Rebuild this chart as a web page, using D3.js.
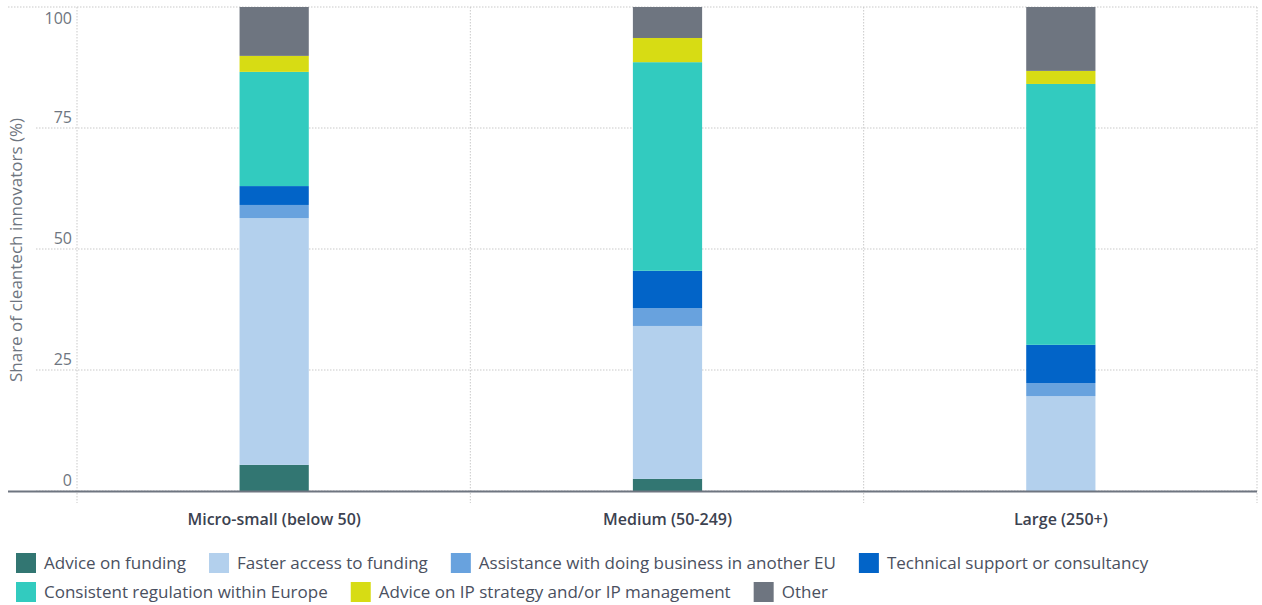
<!DOCTYPE html>
<html>
<head>
<meta charset="utf-8">
<script src="https://cdn.jsdelivr.net/npm/d3@7"></script>
<style>
  html, body { margin: 0; padding: 0; background: #fff; }
  svg { display: block; font-family: "Open Sans", "Noto Sans", sans-serif; }
</style>
</head>
<body>
<svg id="chart" width="1262" height="605"></svg>
<script>
const categories = ["Micro-small (below 50)", "Medium (50-249)", "Large (250+)"];
const seriesNames = [
  "Advice on funding",
  "Faster access to funding",
  "Assistance with doing business in another EU",
  "Technical support or consultancy",
  "Consistent regulation within Europe",
  "Advice on IP strategy and/or IP management",
  "Other"
];
const adviceOnFunding      = [5.4, 2.5, 0.0];
const fasterAccess         = [51.0, 31.6, 19.6];
const assistanceBusiness   = [2.7, 3.7, 2.7];
const technicalSupport     = [3.9, 7.7, 7.9];
const consistentRegulation = [23.6, 43.1, 53.9];
const adviceIP             = [3.3, 5.0, 2.7];
const other                = [10.1, 6.4, 13.2];
const yTicks = [0, 25, 50, 75, 100];
const colors = ["#327672", "#b3d0ed", "#68a2de", "#0264c8", "#32cbbf", "#d7dc14", "#6e7580"];

(function () {
const seriesValues = [adviceOnFunding, fasterAccess, assistanceBusiness, technicalSupport,
                      consistentRegulation, adviceIP, other];
const table = categories.map((c, i) => {
  const row = { category: c };
  seriesNames.forEach((s, j) => row[s] = seriesValues[j][i]);
  return row;
});
const stacked = d3.stack().keys(seriesNames)(table);

const svg = d3.select("#chart");
const pLeft = 77, pRight = 1257, pTop = 7, pBottom = 491;
const x = d3.scaleBand().domain(categories).range([pLeft, pRight]).padding(0);
const y = d3.scaleLinear().domain([0, 100]).range([pBottom, pTop]);
const color = d3.scaleOrdinal().domain(seriesNames).range(colors);
const barW = x.bandwidth() * 0.176;

// horizontal gridlines
svg.append("g").selectAll("line").data(yTicks).join("line")
  .attr("x1", d => d === 100 ? 8 : 36).attr("x2", pRight)
  .attr("y1", d => y(d)).attr("y2", d => y(d))
  .attr("stroke", "#c9c9c9").attr("stroke-width", 1)
  .attr("stroke-dasharray", "1.5,1.5");

// vertical gridlines at band boundaries
const bounds = categories.map(c => x(c)).concat([pRight]);
svg.append("g").selectAll("line").data(bounds).join("line")
  .attr("x1", d => d).attr("x2", d => d)
  .attr("y1", pTop).attr("y2", pBottom + 12)
  .attr("stroke", "#c9c9c9").attr("stroke-width", 1)
  .attr("stroke-dasharray", "1.5,1.5");

// y tick labels
svg.append("g").selectAll("text").data(yTicks).join("text")
  .attr("x", 72)
  .attr("y", d => d === 100 ? y(d) + 17 : y(d) - 5)
  .attr("text-anchor", "end")
  .attr("fill", "#6e7580")
  .attr("font-size", 16)
  .text(d => d);

// y axis title
svg.append("text")
  .attr("transform", `translate(22,${(pTop + pBottom) / 2 + 1}) rotate(-90)`)
  .attr("text-anchor", "middle")
  .attr("fill", "#6e7580")
  .attr("font-size", 17)
  .text("Share of cleantech innovators (%)");

// bars
svg.append("g").selectAll("g").data(stacked).join("g")
  .attr("fill", d => color(d.key))
  .selectAll("rect").data(d => d).join("rect")
  .attr("x", d => x(d.data.category) + x.bandwidth() / 2 - barW / 2 + 0.5)
  .attr("width", barW)
  .attr("y", d => y(d[1]))
  .attr("height", d => Math.max(0, y(d[0]) - y(d[1])));

// baseline
svg.append("line")
  .attr("x1", 8).attr("x2", pRight)
  .attr("y1", y(0) + 0.5).attr("y2", y(0) + 0.5)
  .attr("stroke", "#6e7580").attr("stroke-width", 2);

// x labels
svg.append("g").selectAll("text").data(categories).join("text")
  .attr("x", d => x(d) + x.bandwidth() / 2 + 0.5)
  .attr("y", 525)
  .attr("text-anchor", "middle")
  .attr("fill", "#3c4250")
  .attr("font-size", 16)
  .attr("font-weight", 600)
  .text(d => d);

// legend
const legend = svg.append("g");
const rowY = [563, 592];
let lx = 16, row = 0;
const maxX = 1220;
seriesNames.forEach((name, i) => {
  const g = legend.append("g");
  const t = g.append("text")
    .attr("x", 28).attr("y", 0).attr("dy", "0.35em")
    .attr("fill", "#4a5060").attr("font-size", 17)
    .text(name);
  const w = t.node().getComputedTextLength();
  if (lx + 28 + w > maxX && lx > 16) { row++; lx = 16; }
  g.attr("transform", `translate(${lx},${rowY[row]})`);
  g.insert("rect", "text")
    .attr("x", 0).attr("y", -10).attr("width", 20).attr("height", 20)
    .attr("fill", colors[i]);
  lx += 28 + w + 23;
});
})();
</script>
</body>
</html>
